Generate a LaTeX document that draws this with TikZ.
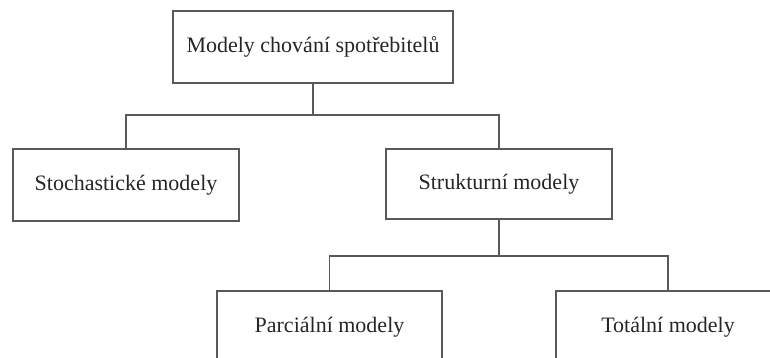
\documentclass[tikz,border=0pt]{standalone}
\usepackage{fontspec}
\setmainfont{Liberation Serif}
\begin{document}
\begin{tikzpicture}[x=1pt,y=1pt,
  box/.style={draw=black!65,line width=1.3pt,fill=white,minimum height=72pt,inner sep=0pt,font=\fontsize{22}{26}\selectfont,text=black!85},
  conn/.style={draw=black!65,line width=1.3pt}]
\useasboundingbox (0,0) rectangle (770,-358);
\node[box,minimum width=280pt] (top) at (313,-47) {Modely chování spotřebitelů};
\node[box,minimum width=226pt] (stoch) at (126,-185) {Stochastické modely};
\node[box,minimum width=226pt,minimum height=70pt] (strukt) at (499,-184) {Strukturní modely};
\node[box,minimum width=225pt] (parc) at (329.5,-327) {Parciální modely};
\node[box,minimum width=224pt] (tot) at (668,-327) {Totální modely};
\coordinate (j1) at (313,-115);
\coordinate (j2) at (499,-256);
\draw[conn] (top.south) -- (j1);
\draw[conn] (stoch.north) |- (j1) -| (strukt.north);
\draw[conn] (strukt.south) -- (j2);
\draw[conn] (parc.north) |- (j2) -| (tot.north);
\end{tikzpicture}
\end{document}
